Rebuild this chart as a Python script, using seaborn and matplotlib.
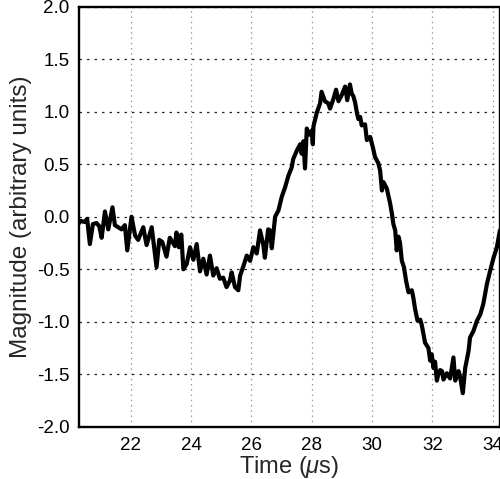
import pandas as pd
import matplotlib
matplotlib.use("Agg")
import matplotlib.pyplot as plt
import seaborn as sns

# time in microseconds, magnitude in arbitrary units
time_us = [
    20.26, 20.35, 20.48, 20.56, 20.65, 20.75, 20.87, 20.96, 21.04, 21.15,
    21.26, 21.40, 21.48, 21.59, 21.70, 21.81, 21.89, 22.03, 22.15, 22.25,
    22.42, 22.53, 22.62, 22.70, 22.86, 22.95, 23.05, 23.19, 23.30, 23.47,
    23.52, 23.60, 23.68, 23.75, 23.86, 23.97, 24.08, 24.19, 24.30, 24.41,
    24.52, 24.63, 24.74, 24.85, 24.96, 25.07, 25.18, 25.29, 25.35, 25.46,
    25.57, 25.63, 25.74, 25.85, 25.96, 26.07, 26.18, 26.29, 26.40, 26.45,
    26.56, 26.62, 26.68, 26.79, 26.90, 27.01, 27.12, 27.23, 27.34, 27.39,
    27.51, 27.62, 27.67, 27.73, 27.78, 27.84, 27.89, 27.95, 28.00, 28.04,
    28.06, 28.17, 28.28, 28.33, 28.44, 28.55, 28.61, 28.72, 28.81, 28.89,
    29.00, 29.11, 29.18, 29.27, 29.33, 29.38, 29.44, 29.50, 29.55, 29.61,
    29.66, 29.77, 29.83, 29.94, 30.03, 30.10, 30.21, 30.27, 30.33, 30.38,
    30.49, 30.60, 30.66, 30.71, 30.77, 30.82, 30.88, 30.93, 30.99, 31.06,
    31.13, 31.21, 31.32, 31.37, 31.43, 31.51, 31.60, 31.65, 31.76, 31.87,
    31.93, 31.98, 32.04, 32.09, 32.15, 32.20, 32.26, 32.32, 32.37, 32.48,
    32.59, 32.70, 32.76, 32.87, 32.92, 33.01, 33.09, 33.20, 33.25, 33.36,
    33.48, 33.59, 33.69, 33.81, 33.92, 34.03, 34.14, 34.24,
]
magnitude = [
    -0.07, -0.04, -0.05, -0.02, -0.26, -0.07, -0.06, -0.09, -0.20, 0.05,
    -0.12, 0.09, -0.08, -0.10, -0.12, -0.08, -0.32, 0.00, -0.18, -0.22,
    -0.10, -0.27, -0.18, -0.10, -0.48, -0.22, -0.24, -0.38, -0.20, -0.28,
    -0.15, -0.29, -0.17, -0.50, -0.45, -0.29, -0.41, -0.26, -0.52, -0.40,
    -0.55, -0.37, -0.56, -0.49, -0.59, -0.58, -0.67, -0.61, -0.53, -0.67,
    -0.70, -0.56, -0.47, -0.37, -0.42, -0.29, -0.35, -0.13, -0.27, -0.39,
    -0.12, -0.13, -0.30, 0.00, 0.06, 0.19, 0.28, 0.39, 0.47, 0.55,
    0.63, 0.69, 0.60, 0.72, 0.46, 0.84, 0.79, 0.78, 0.82, 0.69,
    0.86, 0.99, 1.08, 1.19, 1.10, 1.08, 1.03, 1.12, 1.21, 1.10,
    1.16, 1.24, 1.11, 1.26, 1.17, 1.15, 1.09, 0.99, 0.93, 0.95,
    0.87, 0.88, 0.73, 0.76, 0.66, 0.57, 0.51, 0.44, 0.25, 0.33,
    0.27, 0.13, 0.03, -0.07, -0.13, -0.32, -0.19, -0.25, -0.42, -0.48,
    -0.61, -0.72, -0.70, -0.77, -0.88, -0.99, -0.98, -1.03, -1.20, -1.25,
    -1.37, -1.31, -1.44, -1.38, -1.56, -1.50, -1.46, -1.47, -1.55, -1.49,
    -1.54, -1.34, -1.56, -1.47, -1.52, -1.68, -1.44, -1.28, -1.15, -1.09,
    -0.99, -0.93, -0.83, -0.64, -0.51, -0.39, -0.29, -0.13,
]

x_ticks = [22, 24, 26, 28, 30, 32, 34]
y_ticks = [-2.0, -1.5, -1.0, -0.5, 0.0, 0.5, 1.0, 1.5, 2.0]


def main():
    sns.set_theme(style="white")
    plt.rcParams["font.family"] = ["Liberation Sans", "DejaVu Sans"]
    plt.rcParams["mathtext.fontset"] = "custom"
    plt.rcParams["mathtext.it"] = "Liberation Sans:italic"
    plt.rcParams["mathtext.rm"] = "Liberation Sans"
    plt.rcParams["axes.unicode_minus"] = False

    df = pd.DataFrame({"t": time_us, "m": magnitude})

    fig = plt.figure(figsize=(5.0, 4.79), dpi=100)
    ax = fig.add_axes([0.158, 0.109, 0.84, 0.877])

    sns.lineplot(data=df, x="t", y="m", color="black", linewidth=3.0, ax=ax)

    ax.set_xlim(20.29, 34.21)
    ax.set_ylim(-2.0, 2.0)
    ax.set_xticks(x_ticks)
    ax.set_yticks(y_ticks)
    ax.set_yticklabels([f"{v:.1f}" for v in y_ticks])

    ax.xaxis.grid(True, color="0.6", linestyle=(0, (1.2, 3)), linewidth=0.9)
    ax.yaxis.grid(True, color="0.15", linestyle=(0, (2, 4)), linewidth=0.9)

    for side in ["left", "bottom", "top"]:
        ax.spines[side].set_color("black")
        ax.spines[side].set_linewidth(1.7)
    ax.spines["right"].set_color("black")
    ax.spines["right"].set_linewidth(1.0)

    ax.tick_params(axis="both", labelsize=13.5, length=0, pad=7, colors="black")
    ax.set_xlabel(r"Time ($\mu$s)", fontsize=17, labelpad=0)
    ax.set_ylabel("Magnitude (arbitrary units)", fontsize=17.5, labelpad=3)

    fig.savefig("out.png", dpi=100)


if __name__ == "__main__":
    main()
